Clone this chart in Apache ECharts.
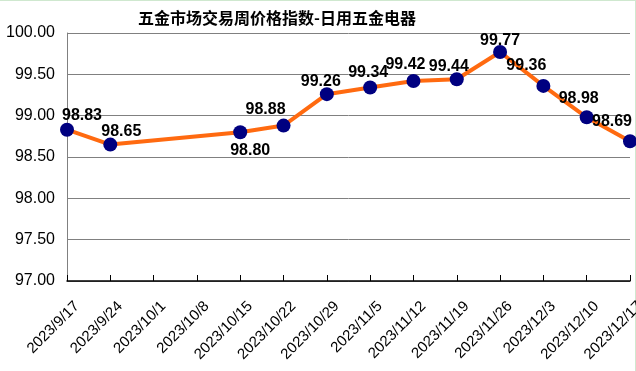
<!DOCTYPE html>
<html>
<head>
<meta charset="utf-8">
<script src="https://cdn.jsdelivr.net/npm/echarts@6/dist/echarts.min.js"></script>
<style>html,body{margin:0;padding:0;background:#fff;}#c{width:636px;height:371px;}</style>
</head>
<body>
<div id="c"></div>
<script>
var titleText = '五金市场交易周价格指数-日用五金电器';
var categories = ['2023/9/17','2023/9/24','2023/10/1','2023/10/8','2023/10/15','2023/10/22','2023/10/29','2023/11/5','2023/11/12','2023/11/19','2023/11/26','2023/12/3','2023/12/10','2023/12/17'];
var values = [98.83, 98.65, null, null, 98.80, 98.88, 99.26, 99.34, 99.42, 99.44, 99.77, 99.36, 98.98, 98.69];
var yMin = 97, yMax = 100, yStep = 0.5;

// label placement (style only)
var labelOffsets = [[15,-14],[11,-13],null,null,[10,18],[-18,-16],[-6,-13],[-2,-15],[-8,-16],[-8,-13],[0,-11],[-17,-20],[-8,-19],[-18,-20]];

var seriesData = values.map(function(v, i){
  var off = labelOffsets[i] || [0,-15];
  return {value: v, label: {offset: off}};
});

var chart = echarts.init(document.getElementById('c'), null, {renderer:'canvas'});
chart.setOption({
  backgroundColor: '#ffffff',
  animation: false,
  title: {
    text: titleText,
    left: 272, top: 5, textAlign: 'center',
    textStyle: {fontFamily: 'Noto Sans CJK SC', fontSize: 16, fontWeight: 'bold', color: '#000'}
  },
  graphic: [
    {type:'line', shape:{x1:0,y1:0.5,x2:636,y2:0.5}, style:{stroke:'#cfe8cf', lineWidth:1}},
    {type:'line', shape:{x1:635.5,y1:0,x2:635.5,y2:371}, style:{stroke:'#cfe8cf', lineWidth:1}}
  ],
  grid: {left: 67, right: 6, top: 33, height: 248, containLabel: false, outerBoundsMode: 'none'},
  xAxis: {
    type: 'category',
    data: categories,
    boundaryGap: false,
    axisLine: {lineStyle: {color: '#000', width: 1.5}},
    axisTick: {inside: true, length: 6, lineStyle: {color: '#000'}},
    axisLabel: {rotate: 45, interval: 0, margin: 13, color: '#000', fontFamily: 'Liberation Sans', fontSize: 15, verticalAlign: 'top', lineHeight: 28, hideOverlap: false},
    splitLine: {show: false}
  },
  yAxis: {
    type: 'value',
    min: yMin, max: yMax, interval: yStep,
    axisLine: {show: true, lineStyle: {color: '#808080'}},
    axisTick: {show: false},
    axisLabel: {margin: 12, color: '#000', fontFamily: 'Liberation Sans', fontSize: 16, formatter: function(v){return v.toFixed(2);}},
    splitLine: {lineStyle: {color: '#808080', width: 1}}
  },
  series: [{
    type: 'line',
    data: seriesData,
    connectNulls: true,
    lineStyle: {color: '#ff6a10', width: 4},
    itemStyle: {color: '#000080'},
    symbol: 'circle',
    symbolSize: 14,
    showAllSymbol: true,
    label: {show: true, position: 'inside', color: '#000', fontFamily: 'Liberation Sans', fontSize: 16, fontWeight: 'bold',
      formatter: function(p){return p.value.toFixed(2);}}
  }]
});
</script>
</body>
</html>
